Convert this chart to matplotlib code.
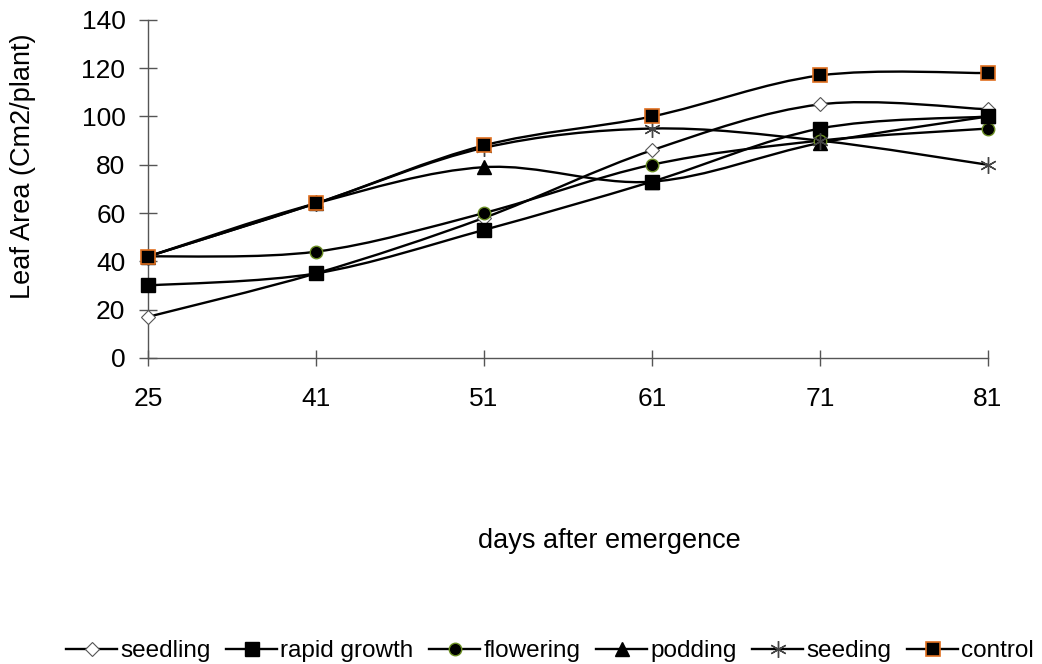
import matplotlib
matplotlib.use('Agg')
import matplotlib.pyplot as plt
from matplotlib.path import Path
from matplotlib.patches import PathPatch
from matplotlib.lines import Line2D
import numpy as np

plt.rcParams['font.family'] = ['Liberation Sans', 'DejaVu Sans']

# data
days = ['25', '41', '51', '61', '71', '81']
seedling = [17, 35, 58, 86, 105, 103]
rapid_growth = [30, 35, 53, 73, 95, 100]
flowering = [42, 44, 60, 80, 90, 95]
podding = [42, 64, 79, 73, 89, 100]
seeding = [42, 64, 87, 95, 90, 80]
control = [42, 64, 88, 100, 117, 118]

series = [
    ('seedling', seedling, dict(marker='D', ms=7, mfc='white', mec='#555555', mew=0.8)),
    ('rapid growth', rapid_growth, dict(marker='s', ms=10, mfc='black', mec='black')),
    ('flowering', flowering, dict(marker='o', ms=9, mfc='black', mec='#6b8e23', mew=1)),
    ('podding', podding, dict(marker='^', ms=10, mfc='black', mec='black')),
    ('seeding', seeding, dict(marker=(6, 2, 0), ms=12, mfc='none', mec='#444444', mew=1)),
    ('control', control, dict(marker='s', ms=10, mfc='black', mec='#e07020', mew=1.2)),
]


def smooth_path(xs, ys):
    # Excel-like smoothed line: cubic bezier with catmull-rom control points
    pts = np.column_stack([xs, ys]).astype(float)
    verts = [pts[0]]
    codes = [Path.MOVETO]
    n = len(pts)
    for i in range(n - 1):
        p0 = pts[max(i - 1, 0)]
        p1 = pts[i]
        p2 = pts[i + 1]
        p3 = pts[min(i + 2, n - 1)]
        c1 = p1 + (p2 - p0) / 6.0
        c2 = p2 - (p3 - p1) / 6.0
        verts += [c1, c2, p2]
        codes += [Path.CURVE4] * 3
    return Path(verts, codes)


fig = plt.figure(figsize=(10.42, 6.64), dpi=100)
ax = fig.add_axes([0.142, 0.461, 0.806, 0.509])

x = np.arange(len(days))
handles = []
for name, vals, style in series:
    ax.add_patch(PathPatch(smooth_path(x, vals), fill=False, ec='black', lw=1.7, zorder=2,
                           clip_on=False))
    ax.plot(x, vals, ls='none', zorder=3, clip_on=False, **style)
    handles.append(Line2D([], [], color='black', lw=1.7, label=name, **style))

ax.set_xlim(0, len(days) - 1)
ax.set_ylim(0, 140)
ax.set_yticks(range(0, 141, 20))
ax.set_xticks(x)
ax.set_xticklabels(days)
ax.tick_params(axis='y', direction='inout', length=12.5, width=1, labelsize=19, pad=10)
ax.tick_params(axis='x', direction='inout', length=12, width=1, labelsize=19, pad=15)
for s in ['top', 'right']:
    ax.spines[s].set_visible(False)
for s in ['left', 'bottom']:
    ax.spines[s].set_color('#555555')
    ax.spines[s].set_linewidth(1)
ax.tick_params(color='#555555')

fig.text(23 / 1042, 1 - 166 / 664, 'Leaf Area (Cm2/plant)', fontsize=19.5, rotation=90,
         ha='center', va='center')
fig.text(609 / 1042, 1 - 541 / 664, 'days after emergence', fontsize=19.5, ha='center', va='center')

fig.legend(handles=handles, loc='center', bbox_to_anchor=(550 / 1042, 1 - 651 / 664), ncol=6,
           frameon=False, fontsize=17.5, handlelength=2.1, handletextpad=0.12, columnspacing=0.65,
           borderaxespad=0, borderpad=0)

fig.savefig('out.png', dpi=100)
